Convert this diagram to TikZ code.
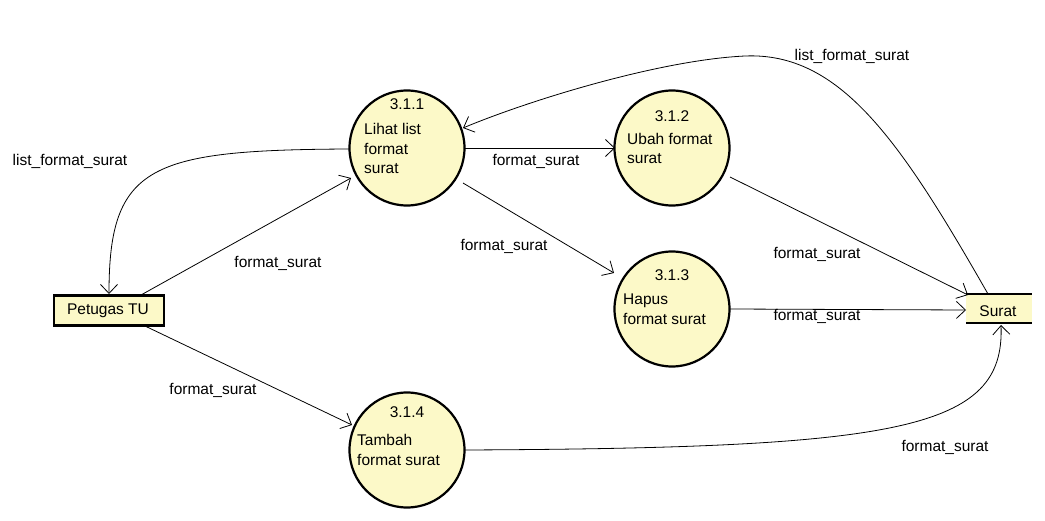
\documentclass[tikz,border=0pt]{standalone}
\usepackage{fontspec}
\setmainfont{Liberation Sans}
\usetikzlibrary{arrows.meta}
\definecolor{procfill}{RGB}{252,249,200}
\tikzset{
  proc/.style={circle,draw=black,line width=2.2pt,fill=procfill,minimum size=115pt,inner sep=0pt},
  ent/.style={draw=black,line width=2.6pt,fill=procfill,minimum width=110pt,minimum height=30pt,inner sep=0pt},
  txt/.style={inner sep=0pt,font=\fontsize{15.5}{19.5}\selectfont},
  ltxt/.style={txt,anchor=west,align=left},
  flow/.style={line width=0.8pt,-{Straight Barb[length=9pt,width=17pt,line width=0.8pt]}},
}
\begin{document}
\begin{tikzpicture}[x=1pt,y=-1pt]
\useasboundingbox (0,0) rectangle (1045,521);
% processes
\node[proc] (p1) at (407,148) {};
\node[proc] (p2) at (672,148) {};
\node[proc] (p3) at (672,309) {};
\node[proc] (p4) at (407,450) {};
% entities
\node[ent] (tu) at (109,310.5) {};
\node[txt] (tut) at (108,311) {Petugas TU};
% data store
\fill[procfill] (966,294) rectangle (1032,323);
\draw[line width=2.6pt] (966,294) -- (1032,294) (966,323) -- (1032,323);
\coordinate (st) at (999,308.5);
\node[txt] (stt) at (998,311) {Surat};
% process texts
\node[txt] (n1) at (407,104) {3.1.1};
\node[ltxt] (t1) at (364,148.5) {Lihat list\\format\\surat};
\node[txt] (n2) at (672,116) {3.1.2};
\node[ltxt] (t2) at (627,148.5) {Ubah format\\surat};
\node[txt] (n3) at (672,275) {3.1.3};
\node[ltxt] (t3) at (623,309) {Hapus\\format surat};
\node[txt] (n4) at (407,412) {3.1.4};
\node[ltxt] (t4) at (357,450) {Tambah\\format surat};
% coordinates on borders
\coordinate (p1l) at (349,149);
\coordinate (tutop) at (109,294);
\coordinate (tua) at (141,295);
\coordinate (p1sw) at (351,178);
\coordinate (p1r) at (465,148);
\coordinate (p2l) at (615,148);
\coordinate (p1se) at (463,183);
\coordinate (p3nw) at (614,273);
\coordinate (p2se) at (730,177);
\coordinate (stnw) at (968,295);
\coordinate (p3r) at (730,309);
\coordinate (stl) at (966,310);
\coordinate (sttop) at (988,294);
\coordinate (p1ne) at (463,128);
\coordinate (tub) at (145,326);
\coordinate (p4nw) at (352,425);
\coordinate (p4r) at (465,450);
\coordinate (stbot) at (1001,325);
% flows
\draw[flow] (p1l) .. controls (150,150) and (109,165) .. (tutop);
\draw[flow] (tua) -- (p1sw);
\draw[flow] (p1r) -- (p2l);
\draw[flow] (p1se) -- (p3nw);
\draw[flow] (p2se) -- (stnw);
\draw[flow] (p3r) -- (stl);
\draw[flow] (sttop) .. controls (900,140) and (840,52) .. (745,56) .. controls (660,60) and (530,100) .. (p1ne);
\draw[flow] (tub) -- (p4nw);
\draw[flow] (p4r) .. controls (900,448) and (1005,430) .. (stbot);
% labels
\node[txt] (l1) at (852,56) {list\_format\_surat};
\node[txt] (l2) at (70,161) {list\_format\_surat};
\node[txt] (l3) at (536,161) {format\_surat};
\node[txt] (l4) at (278,263) {format\_surat};
\node[txt] (l5) at (504,246) {format\_surat};
\node[txt] (l6) at (817,254) {format\_surat};
\node[txt] (l7) at (817,316) {format\_surat};
\node[txt] (l8) at (213,390) {format\_surat};
\node[txt] (l9) at (945,447) {format\_surat};
\end{tikzpicture}
\end{document}
